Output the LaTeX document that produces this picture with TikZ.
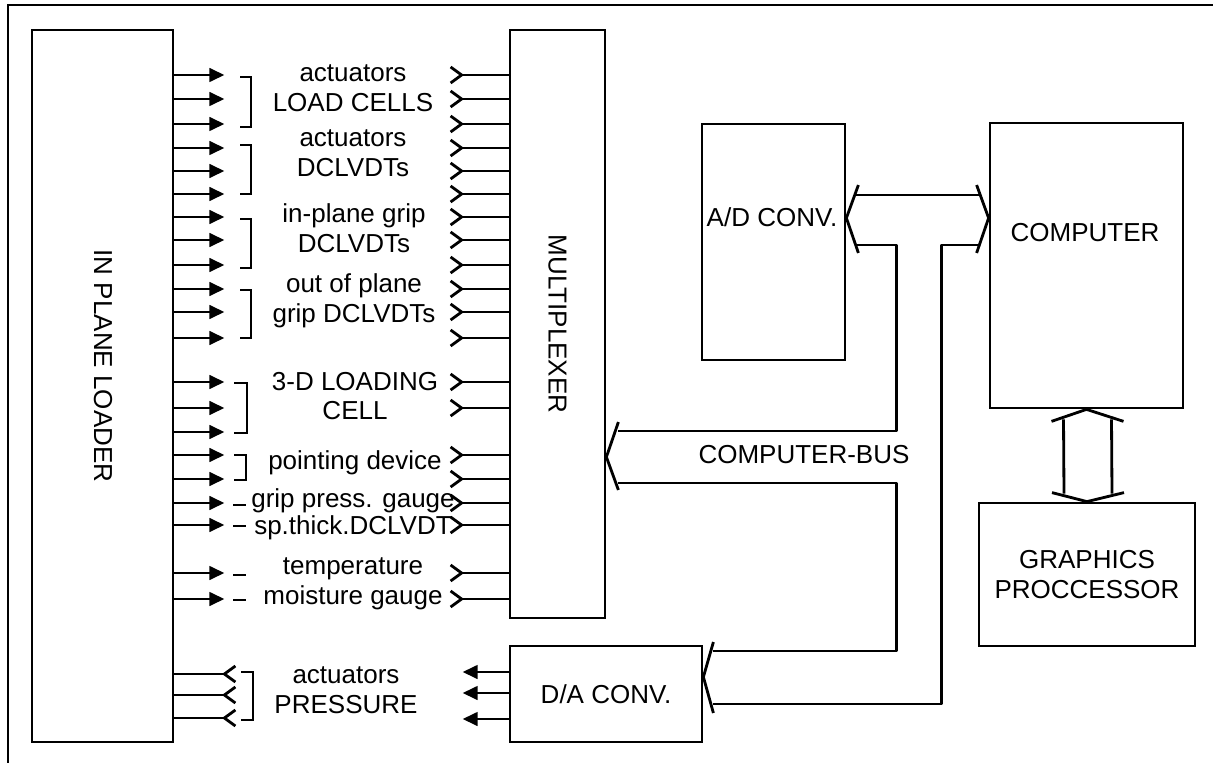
\documentclass[tikz,border=0pt]{standalone}
\usepackage{fontspec}
\setmainfont{Liberation Sans}
\usetikzlibrary{arrows.meta,calc}

\tikzset{
  box/.style={draw, line width=1.6pt, inner sep=0pt},
  lbl/.style={align=center, inner sep=0pt},
  wire/.style={line width=1.6pt},
  sig/.style={wire, -{Triangle[length=0.3cm,width=0.27cm]}},
  brk/.style={line width=0.9pt},
  bus/.style={line width=1.6pt, line join=round},
  plug/.pic={\draw[wire] (-11,-8) -- (0,0) -- (-11,8);},
  socket/.pic={\draw[wire] (11,-8) -- (0,0) -- (11,8);},
}

\begin{document}
\begin{tikzpicture}[x=0.02cm, y=-0.02cm, every node/.style={font=\fontsize{14.8}{17}\selectfont}]
  \useasboundingbox (0,0) rectangle (1213,763);
  \draw[line width=1.1pt] (8,763) -- (8,5) -- (1213,5);

  \node[box, minimum width=2.82cm, minimum height=14.24cm] (loader) at (102.5,386) {};
  \node[lbl, rotate=-90] (loadertext) at (103,366) {IN PLANE LOADER};
  \node[box, minimum width=1.9cm, minimum height=11.76cm] (mux) at (557.5,324) {\rotatebox{-90}{MULTIPLEXER}};
  \node[box, minimum width=2.86cm, minimum height=4.72cm] (adconv) at (773.5,242) {};
  \node[lbl] (adtext) at (772,217) {A/D CONV.};
  \node[box, minimum width=3.86cm, minimum height=5.7cm] (computer) at (1086.5,265.5) {};
  \node[lbl] (cptext) at (1085,233) {COMPUTER};
  \node[box, minimum width=4.32cm, minimum height=2.86cm, align=center] (graphics) at (1087,574.5) {GRAPHICS\\PROCCESSOR};
  \node[box, minimum width=3.84cm, minimum height=1.92cm] (daconv) at (606,694) {D/A CONV.};

  % signal labels
  \node[lbl] (lcells) at (353,88) {actuators\\LOAD CELLS};
  \node[lbl] (ldclvdt) at (353,153) {actuators\\DCLVDTs};
  \node[lbl] (linplane) at (354,228) {in-plane grip\\DCLVDTs};
  \node[lbl] (loutplane) at (354,301) {out of plane\\grip DCLVDTs};
  \node[lbl] (lthreed) at (355,396) {3-D LOADING\\CELL};
  \node[lbl] (lpoint) at (355,463) {pointing device};
  \node[lbl] (lgrip) at (353,501) {grip press. gauge};
  \node[lbl] (lthick) at (353,528) {sp.thick.DCLVDT};
  \node[lbl] (ltemp) at (353,584) {temperature\\moisture gauge};
  \node[lbl] (lpress) at (346,690) {actuators\\PRESSURE};
  \node[lbl] (busname) at (804,455) {COMPUTER-BUS};

  % loader outputs and multiplexer inputs
  \foreach \y in {75,99,124,148,171,194,217,240,265,289,312,338,382,408,432,455,479,503,525,573,599}
    \draw[sig] (loader.east |- 0,\y) -- ++(50,0);
  \foreach \y in {75,99,124,148,171,194,217,240,265,289,312,338,382,408,455,479,503,525,573,599}
    \draw[wire] (mux.west |- 0,\y) -- ++(-47,0) pic {plug};
  \foreach \y in {674,695,718}
    \draw[wire] (loader.east |- 0,\y) -- ++(50,0) pic {socket};
  \foreach \y in {672,693,719}
    \draw[sig] (daconv.west |- 0,\y) -- ++(-46,0);

  % brackets
  \foreach \a/\b in {77/127,145/194,219/268,290/338}
    \draw[brk] (240,\a) -- (251,\a) -- (251,\b) -- (240,\b);
  \draw[brk] (234,383) -- (247,383) -- (247,433) -- (234,433);
  \draw[brk] (234,455) -- (246,455) -- (246,480) -- (234,480);
  \draw[brk] (241,672) -- (253,672) -- (253,720) -- (241,720);
  \foreach \y in {505,526,575,600}
    \draw[brk] (233,\y) -- (246,\y);

  % computer bus
  \coordinate (adport) at (adconv.east |- 0,218);
  \coordinate (cpport) at (computer.west |- 0,218);
  \coordinate (mxport) at (mux.east |- 0,457);
  \coordinate (daport) at (daconv.east |- 0,677);
  \draw[bus] ($(adport)+(12,-33)$) -- (adport) -- ++(12,35);
  \draw[bus] ($(cpport)+(-12,-33)$) -- (cpport) -- ++(-12,35);
  \draw[bus] ($(mxport)+(12,-35)$) -- (mxport) -- ++(12,33);
  \draw[bus] ($(daport)+(10,-35)$) -- (daport) -- ++(10,36);
  \draw[bus] ($(adport)+(10,-23)$) -- ($(cpport)+(-10,-23)$);
  \draw[bus] ($(adport)+(10,27)$) -| ($(mxport)+(290,-26)$) -- ($(mxport)+(12,-26)$);
  \draw[bus] ($(mxport)+(12,26)$) -| ($(daport)+(193,-26)$) -- ($(daport)+(10,-26)$);
  \draw[bus] ($(daport)+(10,27)$) -| ($(cpport)+(-47,27)$) -- ($(cpport)+(-10,27)$);

  % graphics link
  \draw[bus] ($(computer.south)+(-35,12)$) -- (computer.south) -- ++(37,12);
  \draw[bus] ($(graphics.north)+(-35,-9)$) -- (graphics.north) -- ++(37,-9);
  \draw[bus] ($(computer.south)+(-23,10)$) -- ($(graphics.north)+(-23,-8)$);
  \draw[bus] ($(computer.south)+(25,10)$) -- ($(graphics.north)+(25,-8)$);
\end{tikzpicture}
\end{document}
